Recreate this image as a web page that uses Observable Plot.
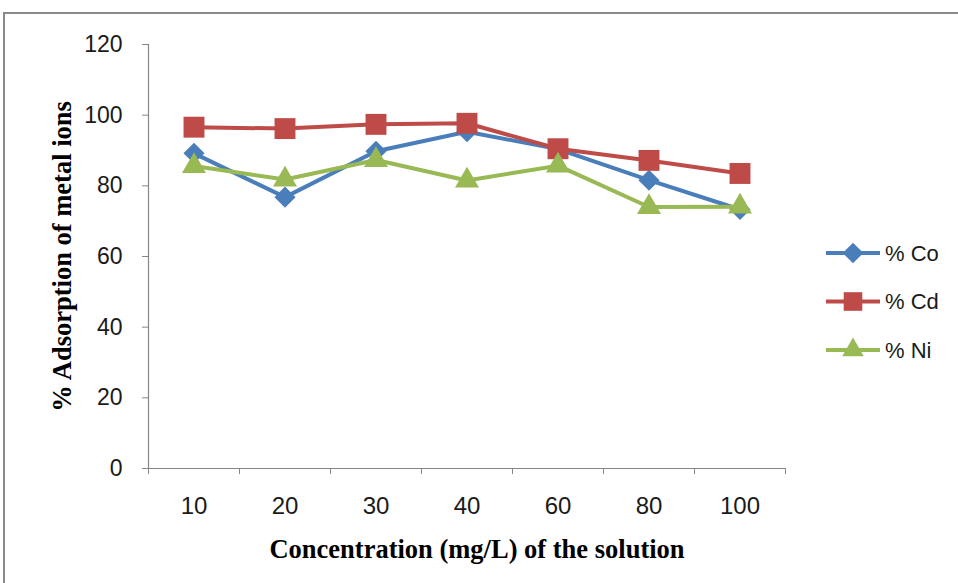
<!DOCTYPE html>
<html>
<head>
<meta charset="utf-8">
<script src="https://cdn.jsdelivr.net/npm/d3@7"></script>
<script src="https://cdn.jsdelivr.net/npm/@observablehq/plot@0.6"></script>
<style>
  html, body { margin: 0; padding: 0; background: #fff; }
  #wrap { position: relative; width: 958px; height: 583px; overflow: hidden; }
  #border { position: absolute; left: 3px; top: 12px; width: 1000px; height: 1000px; border-left: 2px solid #8a8a8a; border-top: 2px solid #8a8a8a; box-sizing: border-box; }
  #chart { position: absolute; left: 0; top: 0; }
  #legend { position: absolute; left: 820px; top: 234px; }
</style>
</head>
<body>
<div id="wrap">
  <div id="border"></div>
  <div id="chart"></div>
  <div id="legend"></div>
</div>
<script>
const categories = ["10", "20", "30", "40", "60", "80", "100"];
const seriesNames = ["% Co", "% Cd", "% Ni"];
const co = [89.2, 76.8, 89.8, 95.3, 90.4, 81.6, 73.3];
const cd = [96.6, 96.2, 97.4, 97.7, 90.5, 87.2, 83.5];
const ni = [85.6, 81.8, 87.3, 81.5, 85.7, 74.0, 74.1];
const yTicks = [0, 20, 40, 60, 80, 100, 120];
const colors = ["#4A7EBB", "#BE4B48", "#98B954"];
const symbols = ["diamond2", "square", "triangle"];
const yTitle = "% Adsorption of metal ions";
const xTitle = "Concentration (mg/L) of the solution";

const values = [co, cd, ni];
const rows = [];
values.forEach((arr, s) => arr.forEach((v, i) => rows.push({i, cat: categories[i], value: v, series: seriesNames[s]})));

const tickFont = "'Liberation Sans', Arial, sans-serif";
const titleFont = "'Liberation Serif', 'Times New Roman', serif";

const marks = [
  Plot.ruleX([-0.5], {stroke: "#868686", strokeWidth: 1.2}),
  Plot.ruleY([0], {stroke: "#868686", strokeWidth: 1.2}),
  Plot.axisY({ticks: yTicks, tickSize: 6, stroke: "#868686", tickFormat: () => "", label: null}),
  Plot.axisY({ticks: yTicks, tickSize: 0, tickPadding: 26, fontSize: 23, fontFamily: tickFont, fill: "#1a1a1a", label: null}),
  Plot.axisX({ticks: d3.range(-0.5, categories.length), tickSize: 6, stroke: "#868686", tickFormat: () => "", label: null}),
  Plot.axisX({ticks: d3.range(categories.length), tickSize: 0, tickPadding: 28, fontSize: 24, fontFamily: tickFont, fill: "#1a1a1a", tickFormat: i => categories[i], label: null}),
  Plot.text([yTitle], {frameAnchor: "left", textAnchor: "middle", dx: -86, rotate: -90, fontSize: 26.5, fontWeight: "bold", fontFamily: titleFont, fill: "#000"}),
  Plot.text([xTitle], {frameAnchor: "bottom", textAnchor: "middle", dx: 10, dy: 89, fontSize: 26.5, fontWeight: "bold", fontFamily: titleFont, fill: "#000"})
];
seriesNames.forEach((name, s) => {
  const d = rows.filter(r => r.series === name);
  marks.push(Plot.line(d, {x: "i", y: "value", stroke: colors[s], strokeWidth: 4}));
  marks.push(Plot.dot(d, {x: "i", y: "value", fill: colors[s], stroke: "none", symbol: symbols[s], r: s === 0 ? 9.5 : s === 1 ? 11.8 : 8.9}));
});

const chart = Plot.plot({
  width: 958,
  height: 583,
  marginLeft: 148,
  marginRight: 173,
  marginTop: 44,
  marginBottom: 115,
  x: {type: "linear", domain: [-0.5, categories.length - 0.5], axis: null},
  y: {domain: [0, 120], axis: null},
  style: {background: "transparent", color: "#000"},
  marks
});
document.getElementById("chart").appendChild(chart);

// Legend
const leg = d3.select("#legend").append("svg").attr("width", 138).attr("height", 140)
  .style("font-family", tickFont);
const sizes = [9.3, 10.5, 8];
seriesNames.forEach((name, s) => {
  const g = leg.append("g").attr("transform", `translate(0, ${19 + s * 48.5})`);
  g.append("line").attr("x1", 6).attr("x2", 60).attr("y1", 0).attr("y2", 0)
    .attr("stroke", colors[s]).attr("stroke-width", 4);
  const sym = [d3.symbolDiamond2, d3.symbolSquare, d3.symbolTriangle][s];
  g.append("path").attr("transform", "translate(33,0)")
    .attr("d", d3.symbol(sym, sizes[s] * sizes[s] * Math.PI)()).attr("fill", colors[s]);
  g.append("text").attr("x", 65).attr("y", 0).attr("dy", "0.35em")
    .attr("font-size", 22).attr("fill", "#1a1a1a").text(name);
});
</script>
</body>
</html>
